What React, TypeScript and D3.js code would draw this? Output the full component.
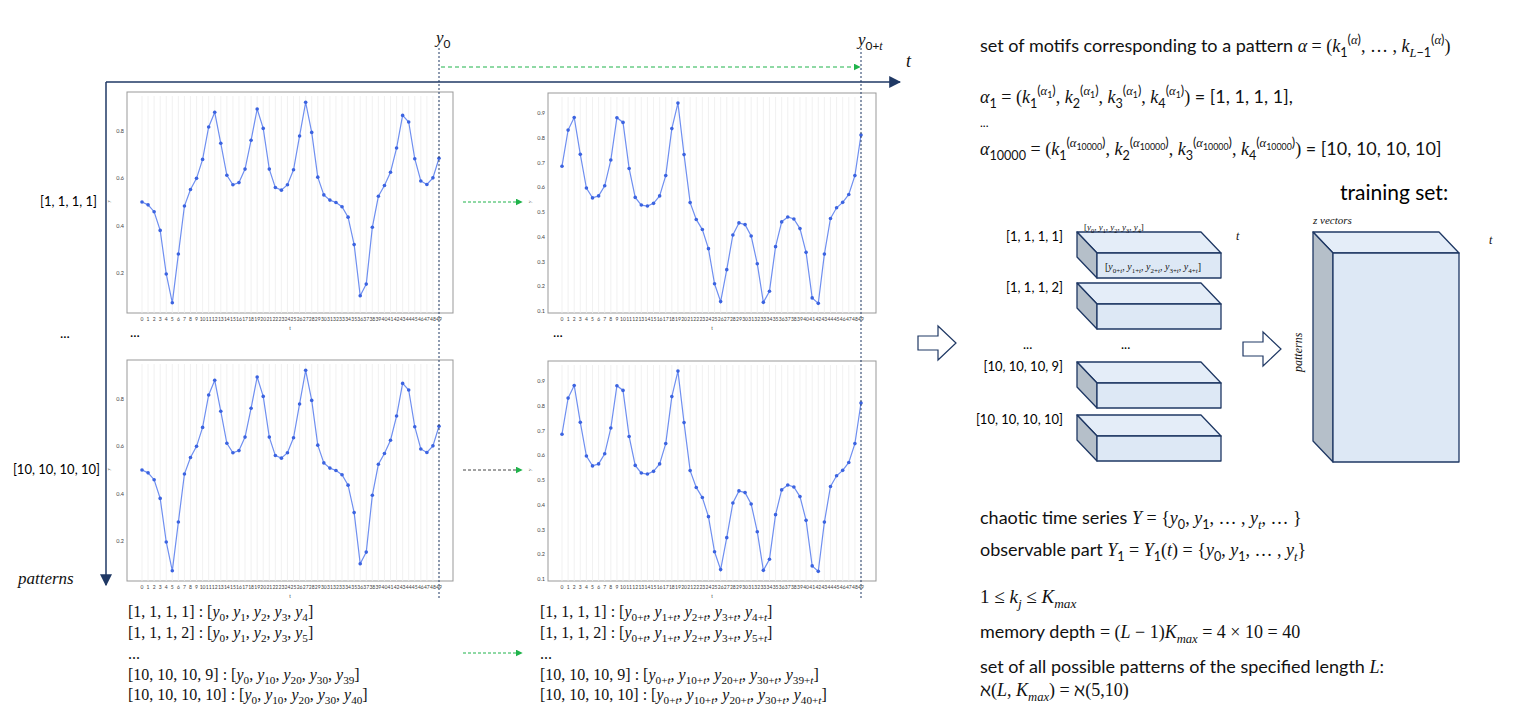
import React from "react";
import * as d3 from "d3";

const seriesA = [0.5,0.488,0.459,0.38,0.196,0.074,0.28,0.483,0.553,0.6,0.68,0.817,0.879,0.748,0.613,0.573,0.582,0.639,0.761,0.893,0.811,0.639,0.561,0.55,0.573,0.636,0.779,0.921,0.794,0.605,0.53,0.508,0.498,0.48,0.436,0.32,0.104,0.153,0.393,0.524,0.57,0.626,0.728,0.866,0.838,0.683,0.589,0.574,0.602,0.685];
const seriesB = [0.685,0.831,0.882,0.733,0.597,0.557,0.565,0.606,0.71,0.881,0.862,0.676,0.559,0.528,0.524,0.535,0.565,0.647,0.837,0.94,0.732,0.538,0.47,0.429,0.352,0.21,0.138,0.267,0.407,0.456,0.449,0.403,0.291,0.135,0.18,0.36,0.46,0.48,0.472,0.433,0.337,0.153,0.131,0.33,0.474,0.517,0.539,0.571,0.647,0.811];
const ticksA = [0.2,0.4,0.6,0.8];
const ticksB = [0.1,0.2,0.3,0.4,0.5,0.6,0.7,0.8,0.9];
const rowLabels = ["[1, 1, 1, 1]", "[10, 10, 10, 10]"];
const stackLabels = ["[1, 1, 1, 1]", "[1, 1, 1, 2]", "[10, 10, 10, 9]", "[10, 10, 10, 10]"];
const listLeft = [
  "[1, 1, 1, 1] : [<i>y</i><sub>0</sub>, <i>y</i><sub>1</sub>, <i>y</i><sub>2</sub>, <i>y</i><sub>3</sub>, <i>y</i><sub>4</sub>]",
  "[1, 1, 1, 2] : [<i>y</i><sub>0</sub>, <i>y</i><sub>1</sub>, <i>y</i><sub>2</sub>, <i>y</i><sub>3</sub>, <i>y</i><sub>5</sub>]",
  "...",
  "[10, 10, 10, 9] : [<i>y</i><sub>0</sub>, <i>y</i><sub>10</sub>, <i>y</i><sub>20</sub>, <i>y</i><sub>30</sub>, <i>y</i><sub>39</sub>]",
  "[10, 10, 10, 10] : [<i>y</i><sub>0</sub>, <i>y</i><sub>10</sub>, <i>y</i><sub>20</sub>, <i>y</i><sub>30</sub>, <i>y</i><sub>40</sub>]",
];
const listRight = [
  "[1, 1, 1, 1] : [<i>y</i><sub>0+<i>t</i></sub>, <i>y</i><sub>1+<i>t</i></sub>, <i>y</i><sub>2+<i>t</i></sub>, <i>y</i><sub>3+<i>t</i></sub>, <i>y</i><sub>4+<i>t</i></sub>]",
  "[1, 1, 1, 2] : [<i>y</i><sub>0+<i>t</i></sub>, <i>y</i><sub>1+<i>t</i></sub>, <i>y</i><sub>2+<i>t</i></sub>, <i>y</i><sub>3+<i>t</i></sub>, <i>y</i><sub>5+<i>t</i></sub>]",
  "...",
  "[10, 10, 10, 9] : [<i>y</i><sub>0+<i>t</i></sub>, <i>y</i><sub>10+<i>t</i></sub>, <i>y</i><sub>20+<i>t</i></sub>, <i>y</i><sub>30+<i>t</i></sub>, <i>y</i><sub>39+<i>t</i></sub>]",
  "[10, 10, 10, 10] : [<i>y</i><sub>0+<i>t</i></sub>, <i>y</i><sub>10+<i>t</i></sub>, <i>y</i><sub>20+<i>t</i></sub>, <i>y</i><sub>30+<i>t</i></sub>, <i>y</i><sub>40+<i>t</i></sub>]",
];

const SANS = "Lato, 'Open Sans', sans-serif";
const SERIF = "'Liberation Serif', 'DejaVu Serif', serif";

function offOf(stack: number[], size: number) {
  return stack.reduce((a, b, i) => a + (b === 1 ? size * 0.28 : -size * 0.45) * Math.pow(0.7, i), 0);
}

function Rich({ x, y, s, size = 17, family = SANS, anchor = "start" as any }) {
  const parts = s.split(/(<\/?(?:i|sub|sup|m)>)/).filter((p: string) => p !== "");
  const out: any[] = [];
  let italic = 0, math = 0;
  const stack: number[] = [];
  let cur = 0, pending = 0, scale = 1;
  parts.forEach((p: string, k: number) => {
    if (p === "<i>") italic++;
    else if (p === "</i>") italic--;
    else if (p === "<m>") math++;
    else if (p === "</m>") math--;
    else if (p === "<sub>" || p === "<sup>" || p === "</sub>" || p === "</sup>") {
      if (p[1] === "/") stack.pop(); else stack.push(p === "<sub>" ? 1 : -1);
      const off = offOf(stack, size);
      pending += off - cur; cur = off; scale = Math.pow(0.7, stack.length);
    } else {
      out.push(
        <tspan key={k} dy={pending} fontSize={size * scale} fontStyle={italic ? "italic" : "normal"}
          fontFamily={italic || math ? SERIF : undefined}>{p}</tspan>
      );
      pending = 0;
    }
  });
  return <text x={x} y={y} fontSize={size} fontFamily={family} textAnchor={anchor} fill="#111">{out}</text>;
}

function Chart({ data, ticks, yDom, yRange, x0, x49, frame }) {
  const x = d3.scaleLinear().domain([0, 49]).range([x0, x49]);
  const y = d3.scaleLinear().domain(yDom).range(yRange);
  const line = d3.line<number>().x((_, i) => x(i)).y((d) => y(d));
  const [fl, ft, fr, fb] = frame;
  return (
    <g>
      <rect x={fl} y={ft} width={fr - fl} height={fb - ft} fill="#fff" stroke="#999" strokeWidth={1} />
      {data.map((_, i) => (
        <line key={i} x1={x(i)} x2={x(i)} y1={ft + 4} y2={fb} stroke="#eee" strokeWidth={0.8} />
      ))}
      {ticks.map((t) => (
        <text key={t} x={fl - 3} y={y(t) + 2} fontSize={5.5} textAnchor="end" fill="#444" fontFamily={SANS}>{t.toFixed(1)}</text>
      ))}
      {data.map((_, i) => (
        <text key={i} x={x(i)} y={fb + 8} fontSize={5} textAnchor="middle" fill="#444" fontFamily={SANS}>{i}</text>
      ))}
      <text x={(fl + fr) / 2} y={fb + 17} fontSize={6} textAnchor="middle" fill="#444">t</text>
      <text x={fl - 17} y={(ft + fb) / 2} fontSize={5} fill="#444" transform={`rotate(-90 ${fl - 17} ${(ft + fb) / 2})`}>y</text>
      <path d={line(data) || ""} fill="none" stroke="#6f8ff0" strokeWidth={1.2} />
      {data.map((d, i) => (
        <circle key={i} cx={x(i)} cy={y(d)} r={1.8} fill="#3b63e0" />
      ))}
    </g>
  );
}

function Box({ x, y, w, h, dx = 20, dy = 21 }) {
  const fx = x + dx, fy = y + dy;
  return (
    <g stroke="#1f3864" strokeWidth={1.3} strokeLinejoin="round">
      <polygon points={`${x},${y} ${x + w},${y} ${fx + w},${fy} ${fx},${fy}`} fill="#e4edf8" />
      <polygon points={`${x},${y} ${fx},${fy} ${fx},${fy + h} ${x},${y + h}`} fill="#b5bfc9" />
      <rect x={fx} y={fy} width={w} height={h} fill="#dde8f5" />
    </g>
  );
}

function HollowArrow({ x, y }) {
  const p = [[0, 10], [20, 10], [20, 0], [38, 17], [20, 34], [20, 24], [0, 24]].map(([a, b]) => `${x + a},${y + b}`).join(" ");
  return <polygon points={p} fill="#fff" stroke="#1f3864" strokeWidth={1.2} />;
}

export default function App() {
  const boxYs = [232, 283, 362, 415];
  const off = 268;
  return (
    <svg width={1536} height={726} style={{ display: "block", position: "absolute", left: 0, top: 0 }}>
      <defs>
        <marker id="nav" viewBox="0 0 10 10" refX={9} refY={5} markerWidth={8} markerHeight={8} orient="auto">
          <path d="M0,0 L10,5 L0,10 z" fill="#1f3864" />
        </marker>
        <marker id="grn" viewBox="0 0 10 10" refX={9} refY={5} markerWidth={7} markerHeight={7} orient="auto">
          <path d="M0,0 L10,5 L0,10 z" fill="#1fb34a" />
        </marker>
      </defs>

      <line x1={106} y1={82} x2={900} y2={82} stroke="#1f3864" strokeWidth={1.5} markerEnd="url(#nav)" />
      <line x1={106} y1={82} x2={106} y2={585} stroke="#1f3864" strokeWidth={1.5} markerEnd="url(#nav)" />
      <Rich x={906} y={67} s="<i>t</i>" size={18} />
      <Rich x={18} y={584} s="<i>patterns</i>" size={17} />

      {[0, off].map((o) => (
        <g key={o}>
          <Chart data={seriesA} ticks={ticksA} yDom={[0.2, 0.8]} yRange={[273 + o, 131 + o]} x0={142} x49={439} frame={[127, 92 + o, 453, 313 + o]} />
          <Chart data={seriesB} ticks={ticksB} yDom={[0.1, 0.9]} yRange={[311 + o, 113 + o]} x0={562} x49={861} frame={[548, 93 + o, 876, 313 + o]} />
        </g>
      ))}

      <line x1={439} y1={48} x2={439} y2={600} stroke="#1f3864" strokeWidth={1} strokeDasharray="2,2" />
      <line x1={861} y1={48} x2={861} y2={600} stroke="#1f3864" strokeWidth={1} strokeDasharray="2,2" />
      <Rich x={436} y={43} s="<i>y</i><sub>0</sub>" size={17} />
      <Rich x={858} y={45} s="<i>y</i><sub>0+<i>t</i></sub>" size={17} />

      <line x1={441} y1={67} x2={860} y2={67} stroke="#1fb34a" strokeDasharray="4,3" markerEnd="url(#grn)" />
      <line x1={463} y1={202} x2={522} y2={202} stroke="#1fb34a" strokeDasharray="3,2" markerEnd="url(#grn)" />
      <line x1={463} y1={470} x2={522} y2={470} stroke="#444" strokeDasharray="3,2" markerEnd="url(#grn)" />
      <line x1={463} y1={653} x2={522} y2={653} stroke="#1fb34a" strokeDasharray="3,2" markerEnd="url(#grn)" />

      <text x={97} y={206} fontSize={13} textAnchor="end" fontFamily={SANS}>{rowLabels[0]}</text>
      <text x={100} y={474} fontSize={13} textAnchor="end" fontFamily={SANS}>{rowLabels[1]}</text>
      <text x={60} y={338} fontSize={14} fontFamily={SANS}>...</text>
      <text x={130} y={337} fontSize={14} fontFamily={SANS}>...</text>
      <text x={553} y={337} fontSize={14} fontFamily={SANS}>...</text>

      {listLeft.map((s, i) => (
        <Rich key={i} x={128} y={[617, 638, 659, 680, 700][i]} s={s} size={16} family={SERIF} />
      ))}
      {listRight.map((s, i) => (
        <Rich key={i} x={540} y={[617, 638, 659, 680, 700][i]} s={s} size={16} family={SERIF} />
      ))}

      <Rich x={980} y={52} s="set of motifs corresponding to a pattern <i>α</i><m> = (</m><i>k</i><sub>1</sub><sup>(<i>α</i>)</sup><m>, … , </m><i>k</i><sub><i>L</i>−1</sub><sup>(<i>α</i>)</sup><m>)</m>" size={18} />
      <Rich x={980} y={103} s="<i>α</i><sub>1</sub><m> = (</m><i>k</i><sub>1</sub><sup>(<i>α</i><sub>1</sub>)</sup><m>, </m><i>k</i><sub>2</sub><sup>(<i>α</i><sub>1</sub>)</sup><m>, </m><i>k</i><sub>3</sub><sup>(<i>α</i><sub>1</sub>)</sup><m>, </m><i>k</i><sub>4</sub><sup>(<i>α</i><sub>1</sub>)</sup><m>)</m> = [1, 1, 1, 1]," size={18} />
      <text x={980} y={127} fontSize={12} fontFamily={SANS}>...</text>
      <Rich x={980} y={155} s="<i>α</i><sub>10000</sub><m> = (</m><i>k</i><sub>1</sub><sup>(<i>α</i><sub>10000</sub>)</sup><m>, </m><i>k</i><sub>2</sub><sup>(<i>α</i><sub>10000</sub>)</sup><m>, </m><i>k</i><sub>3</sub><sup>(<i>α</i><sub>10000</sub>)</sup><m>, </m><i>k</i><sub>4</sub><sup>(<i>α</i><sub>10000</sub>)</sup><m>)</m> = [10, 10, 10, 10]" size={18} />

      <HollowArrow x={918} y={326} />
      {boxYs.map((by, i) => (
        <g key={i}>
          <Box x={1077} y={by} w={124} h={25} />
          <text x={1063} y={by + 9} fontSize={13} textAnchor="end" fontFamily={SANS}>{stackLabels[i]}</text>
        </g>
      ))}
      <Rich x={1084} y={230} s="[<i>y</i><sub>0</sub>, <i>y</i><sub>1</sub>, <i>y</i><sub>2</sub>, <i>y</i><sub>3</sub>, <i>y</i><sub>4</sub>]" size={9} family={SERIF} />
      <Rich x={1105} y={270} s="[<i>y</i><sub>0+<i>t</i></sub>, <i>y</i><sub>1+<i>t</i></sub>, <i>y</i><sub>2+<i>t</i></sub>, <i>y</i><sub>3+<i>t</i></sub>, <i>y</i><sub>4+<i>t</i></sub>]" size={10} family={SERIF} />
      <Rich x={1236} y={240} s="<i>t</i>" size={12} />
      <text x={1023} y={349} fontSize={13} fontFamily={SANS}>...</text>
      <text x={1121} y={349} fontSize={13} fontFamily={SANS}>...</text>

      <HollowArrow x={1243} y={332} />
      <Box x={1313} y={232} w={126} h={209} />
      <Rich x={1489} y={244} s="<i>t</i>" size={12} />
      <Rich x={1313} y={224} s="<i>z vectors</i>" size={11} />
      <g transform="translate(1302,372) rotate(-90)">
        <Rich x={0} y={0} s="<i>patterns</i>" size={12} />
      </g>
      <text x={1340} y={200} fontSize={21} fontFamily={SANS}>training set:</text>

      <Rich x={980} y={524} s="chaotic time series <i>Y</i><m> = {</m><i>y</i><sub>0</sub><m>, </m><i>y</i><sub>1</sub><m>, … , </m><i>y</i><sub><i>t</i></sub><m>, … }</m>" size={18} />
      <Rich x={980} y={556} s="observable part <i>Y</i><sub>1</sub><m> = </m><i>Y</i><sub>1</sub><m>(</m><i>t</i><m>) = {</m><i>y</i><sub>0</sub><m>, </m><i>y</i><sub>1</sub><m>, … , </m><i>y</i><sub><i>t</i></sub><m>}</m>" size={18} />
      <Rich x={980} y={603} s="<m>1 ≤ </m><i>k</i><sub><i>j</i></sub><m> ≤ </m><i>K</i><sub><i>max</i></sub>" size={19} />
      <Rich x={980} y={638} s="memory depth<m> = (</m><i>L</i><m> − 1)</m><i>K</i><sub><i>max</i></sub><m> = 4 × 10 = 40</m>" size={18} />
      <Rich x={980} y={673} s="set of all possible patterns of the specified length <i>L</i>:" size={18} />
      <Rich x={980} y={696} s="<m>ℵ(</m><i>L</i><m>, </m><i>K</i><sub><i>max</i></sub><m>) = ℵ(5,10)</m>" size={18} />
    </svg>
  );
}
